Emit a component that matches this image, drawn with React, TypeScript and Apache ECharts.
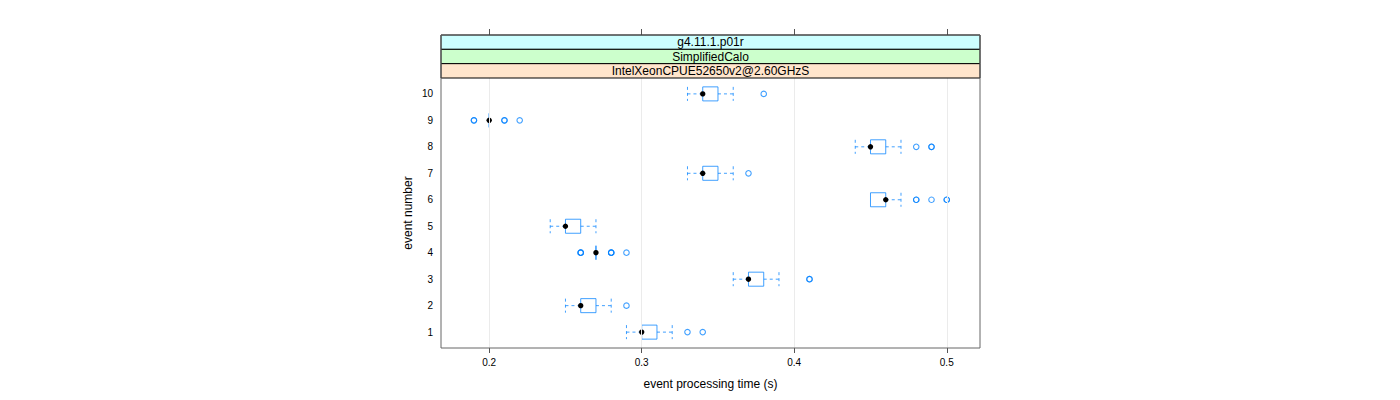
import React, { useEffect, useRef } from "react";
import * as echarts from "echarts";

const events = [1, 2, 3, 4, 5, 6, 7, 8, 9, 10];
const whiskerLow = [0.29, 0.25, 0.36, 0.27, 0.24, 0.45, 0.33, 0.44, 0.2, 0.33];
const q1 = [0.3, 0.26, 0.37, 0.27, 0.25, 0.45, 0.34, 0.45, 0.2, 0.34];
const medians = [0.3, 0.26, 0.37, 0.27, 0.25, 0.46, 0.34, 0.45, 0.2, 0.34];
const q3 = [0.31, 0.27, 0.38, 0.27, 0.26, 0.46, 0.35, 0.46, 0.2, 0.35];
const whiskerHigh = [0.32, 0.28, 0.39, 0.27, 0.27, 0.47, 0.36, 0.47, 0.2, 0.36];
// [event, time]
const outliers: [number, number][] = [
  [1, 0.33], [1, 0.34],
  [2, 0.29],
  [3, 0.41], [3, 0.41],
  [4, 0.26], [4, 0.26], [4, 0.26], [4, 0.28], [4, 0.28], [4, 0.28], [4, 0.29],
  [6, 0.48], [6, 0.48], [6, 0.49], [6, 0.5], [6, 0.5],
  [7, 0.37],
  [8, 0.48], [8, 0.49], [8, 0.49],
  [9, 0.19], [9, 0.19], [9, 0.21], [9, 0.21], [9, 0.22],
  [10, 0.38],
];
const xTicks = [0.2, 0.3, 0.4, 0.5];
const stripLabels = ["g4.11.1.p01r", "SimplifiedCalo", "IntelXeonCPUE52650v2@2.60GHzS"];
const stripColors = ["#ccffff", "#ccffcc", "#ffe5cc"];
const xTitle = "event processing time (s)";
const yTitle = "event number";

const FONT = "'Liberation Sans', Arial, Helvetica, sans-serif";
const BLUE = "#0080ff";

export default function App() {
  const ref = useRef<HTMLDivElement>(null);
  useEffect(() => {
    if (!ref.current) return;
    const chart = echarts.init(ref.current, undefined, { renderer: "svg" });
    const gl = 441, gr = 980, gt = 78, gb = 348;
    const stripTop = 35;
    const stripH = (gt - stripTop) / 3;

    const boxData = events.map((e, i) => [e, whiskerLow[i], q1[i], medians[i], q3[i], whiskerHigh[i]]);

    const graphics: any[] = [];
    stripLabels.forEach((lab, i) => {
      const y = stripTop + i * stripH;
      graphics.push({
        type: "rect",
        shape: { x: gl, y, width: gr - gl, height: stripH },
        style: { fill: stripColors[i], stroke: "#000", lineWidth: 1 },
        z: 10,
      });
      graphics.push({
        type: "text",
        x: (gl + gr) / 2,
        y: y + stripH / 2,
        style: {
          text: lab,
          fill: "#000",
          font: `12px ${FONT}`,
          align: "center",
          verticalAlign: "middle",
        },
        z: 11,
      });
    });
    graphics.push({
      type: "rect",
      shape: { x: gl, y: stripTop, width: gr - gl, height: gb - stripTop },
      style: { fill: "none", stroke: "#666", lineWidth: 1 },
      z: 12,
    });

    const option: any = {
      animation: false,
      grid: { left: gl, right: 1400 - gr, top: gt, bottom: 400 - gb, show: false },
      xAxis: [
        {
          type: "value",
          min: 0.1684,
          max: 0.5218,
          name: xTitle,
          nameLocation: "middle",
          nameGap: 30,
          nameTextStyle: { fontFamily: FONT, fontSize: 12, color: "#000" },
          axisLine: { show: false },
          axisTick: { show: true, length: 5, customValues: xTicks, lineStyle: { color: "#555" } },
          axisLabel: { customValues: xTicks, fontFamily: FONT, fontSize: 10, color: "#000", margin: 9 },
          splitLine: { show: false },
        },
        {
          type: "value",
          position: "top",
          offset: gt - stripTop,
          min: 0.1684,
          max: 0.5218,
          axisLine: { show: false },
          axisTick: { show: true, length: 6, customValues: xTicks, lineStyle: { color: "#555" } },
          axisLabel: { show: false },
          splitLine: { show: false },
        },
      ],
      yAxis: {
        type: "value",
        min: 0.4,
        max: 10.6,
        name: yTitle,
        nameLocation: "middle",
        nameGap: 27,
        nameTextStyle: { fontFamily: FONT, fontSize: 12, color: "#000" },
        axisLine: { show: false },
        axisTick: { show: false },
        axisLabel: { customValues: events, fontFamily: FONT, fontSize: 10, color: "#000", margin: 8 },
        splitLine: { show: false },
      },
      graphic: graphics,
      series: [
        {
          type: "line",
          data: [],
          z: 1,
          silent: true,
          markLine: {
            silent: true,
            symbol: ["none", "none"],
            label: { show: false },
            lineStyle: { color: "#ebebeb", type: "solid", width: 1 },
            data: xTicks.map((v) => ({ xAxis: v })),
          },
        },
        {
          type: "custom",
          z: 3,
          data: boxData,
          renderItem: (params: any, api: any) => {
            const y = api.value(0);
            const lo = api.value(1), a = api.value(2), m = api.value(3), b = api.value(4), hi = api.value(5);
            const pLo = api.coord([lo, y]);
            const pA = api.coord([a, y]);
            const pM = api.coord([m, y]);
            const pB = api.coord([b, y]);
            const pHi = api.coord([hi, y]);
            const h = api.size([0, 1])[1] * 0.53;
            const cy = pM[1];
            const dashed = { stroke: BLUE, lineWidth: 1, lineDash: [3, 3], opacity: 0.75 };
            const children: any[] = [];
            if (pA[0] - pLo[0] > 0.5) {
              children.push({ type: "line", shape: { x1: pLo[0], y1: cy, x2: pA[0], y2: cy }, style: dashed });
              children.push({ type: "line", shape: { x1: pLo[0], y1: cy - h / 2, x2: pLo[0], y2: cy + h / 2 }, style: dashed });
            }
            if (pHi[0] - pB[0] > 0.5) {
              children.push({ type: "line", shape: { x1: pB[0], y1: cy, x2: pHi[0], y2: cy }, style: dashed });
              children.push({ type: "line", shape: { x1: pHi[0], y1: cy - h / 2, x2: pHi[0], y2: cy + h / 2 }, style: dashed });
            }
            children.push({
              type: "rect",
              shape: { x: pA[0], y: cy - h / 2, width: Math.max(pB[0] - pA[0], 0), height: h },
              style: { fill: "none", stroke: BLUE, lineWidth: 1, opacity: 0.75 },
            });
            children.push({
              type: "circle",
              shape: { cx: pM[0], cy, r: 2.7 },
              style: { fill: "#000" },
            });
            return { type: "group", children };
          },
        },
        {
          type: "scatter",
          z: 2,
          data: outliers.map(([e, v]) => [v, e]),
          symbol: "circle",
          symbolSize: 5.5,
          itemStyle: { color: "rgba(255,255,255,0)", borderColor: BLUE, borderWidth: 1.1, opacity: 0.75 },
        },
      ],
    };
    chart.setOption(option);
    return () => chart.dispose();
  }, []);
  return <div ref={ref} style={{ position: "absolute", left: 0, top: 0, width: 1400, height: 400 }} />;
}
